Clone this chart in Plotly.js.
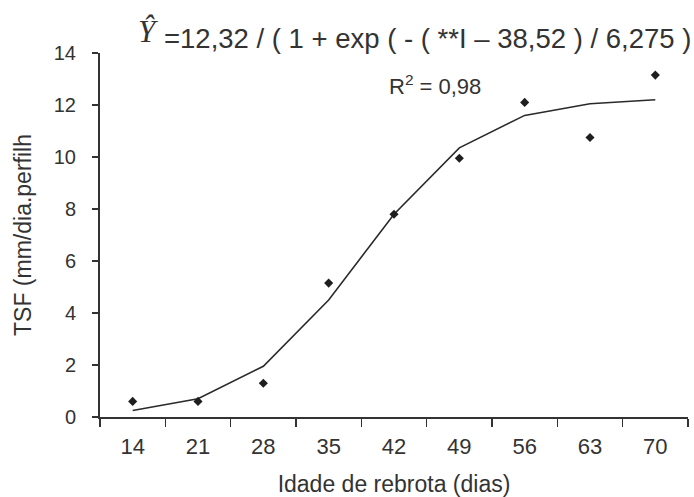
<!DOCTYPE html>
<html>
<head>
<meta charset="utf-8">
<script src="https://cdn.plot.ly/plotly-3.0.1.min.js"></script>
<style>html,body{margin:0;padding:0;background:#fff;}#chart{width:694px;height:497px;}</style>
</head>
<body>
<div id="chart"></div>
<script>
// Data
const days = [14, 21, 28, 35, 42, 49, 56, 63, 70];
const observedTSF = [0.6, 0.6, 1.3, 5.15, 7.8, 9.95, 12.1, 10.75, 13.15];
const fittedTSF = [0.25, 0.7, 1.95, 4.5, 7.8, 10.35, 11.6, 12.05, 12.2];
const yTicks = [0, 2, 4, 6, 8, 10, 12, 14];

const cats = days.map(String);
const FONT = '"Liberation Sans", Arial, sans-serif';
const INK = '#333333';

const traces = [
  {
    x: cats, y: fittedTSF, type: 'scatter', mode: 'lines',
    line: {color: '#2a2a2a', width: 1.6},
    hoverinfo: 'skip', showlegend: false
  },
  {
    x: cats, y: observedTSF, type: 'scatter', mode: 'markers',
    marker: {symbol: 'diamond', size: 7, color: '#1e1e1e'},
    showlegend: false
  }
];

const layout = {
  width: 694, height: 497,
  margin: {l: 100, r: 6, t: 53, b: 80},
  paper_bgcolor: '#ffffff', plot_bgcolor: '#ffffff',
  font: {family: FONT, color: INK, size: 18},
  showlegend: false,
  xaxis: {
    type: 'category',
    range: [-0.5, 8.5],
    tickson: 'boundaries',
    ticks: 'outside', ticklen: 8, tickwidth: 1.5, tickcolor: '#333',
    showline: true, linecolor: '#333', linewidth: 2,
    showgrid: false, zeroline: false,
    tickfont: {family: FONT, size: 22, color: INK},
    ticklabelstandoff: 9,
    title: {text: 'Idade de rebrota (dias)', font: {family: FONT, size: 23, color: INK}, standoff: 19}
  },
  yaxis: {
    range: [0, 14],
    tickvals: yTicks,
    ticktext: yTicks.map(String),
    ticks: 'outside', ticklen: 6, tickwidth: 1.5, tickcolor: '#333',
    showline: true, linecolor: '#333', linewidth: 2,
    showgrid: false, zeroline: false,
    tickfont: {family: FONT, size: 20, color: INK},
    ticklabelstandoff: 12,
    title: {text: 'TSF (mm/dia.perfilh', font: {family: FONT, size: 23, color: INK}, standoff: 16}
  },
  annotations: [
    {
      xref: 'paper', yref: 'paper', x: 0.082, y: 1.058,
      xanchor: 'center', yanchor: 'middle', showarrow: false,
      text: '<i>Ŷ</i>',
      font: {family: '"Liberation Serif", "DejaVu Serif", serif', size: 31, color: INK}
    },
    {
      xref: 'paper', yref: 'paper', x: 0.105, y: 1.041,
      xanchor: 'left', yanchor: 'middle', showarrow: false,
      text: '=12,32 / ( 1 + exp ( - ( **I – 38,52 ) / 6,275 )',
      font: {family: FONT, size: 27.5, color: INK}
    },
    {
      xref: 'paper', yref: 'paper', x: 0.488, y: 0.912,
      xanchor: 'left', yanchor: 'middle', showarrow: false,
      text: 'R<sup>2</sup> = 0,98',
      font: {family: FONT, size: 22, color: INK}
    }
  ]
};

Plotly.newPlot('chart', traces, layout, {displayModeBar: false, staticPlot: true});
</script>
</body>
</html>
